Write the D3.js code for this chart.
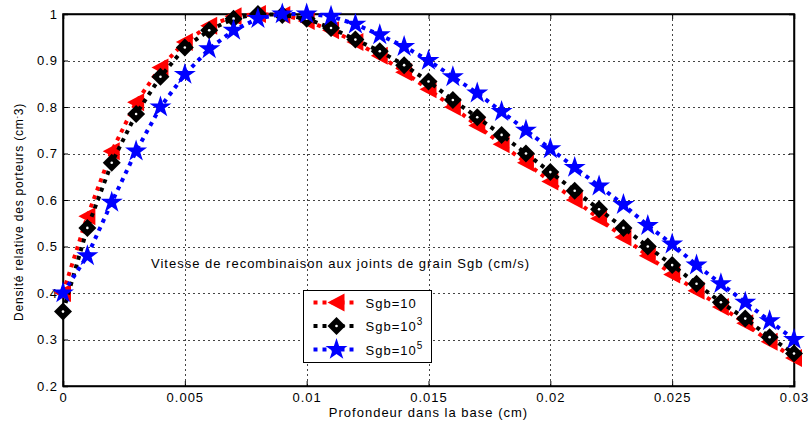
<!DOCTYPE html>
<html lang="fr">

<head>
    <meta charset="UTF-8">
    <title>Densité relative des porteurs</title>
    <script src="https://cdn.jsdelivr.net/npm/d3@7"></script>
    <style>
        body {
            margin: 0;
            background: #fff;
        }

        #chart {
            width: 809px;
            height: 426px;
        }

        text {
            font-family: "Liberation Sans", Arial, Helvetica, sans-serif;
            fill: #000;
            letter-spacing: 1px;
        }

        .grid {
            stroke: #444;
            stroke-width: 1px;
            stroke-dasharray: 2, 3;
        }

        .curve {
            fill: none;
            stroke-width: 4px;
            stroke-dasharray: 4, 5;
        }
    </style>
</head>

<body>
    <div id="chart"></div>
</body>

<script>
    // profondeur (cm)
    let depth = [0, 0.001, 0.002, 0.003, 0.004, 0.005, 0.006, 0.007, 0.008, 0.009, 0.010,
        0.011, 0.012, 0.013, 0.014, 0.015, 0.016, 0.017, 0.018, 0.019, 0.020,
        0.021, 0.022, 0.023, 0.024, 0.025, 0.026, 0.027, 0.028, 0.029, 0.030];

    // Sgb = 10
    let sgb10 = [0.40, 0.565, 0.705, 0.81, 0.885, 0.94, 0.975, 0.995, 1.0, 0.998, 0.985,
        0.965, 0.94, 0.91, 0.875, 0.838, 0.80, 0.76, 0.72, 0.68, 0.64,
        0.60, 0.56, 0.52, 0.48, 0.44, 0.405, 0.37, 0.335, 0.295, 0.26];

    // Sgb = 10^3
    let sgb1e3 = [0.36, 0.54, 0.68, 0.785, 0.865, 0.928, 0.965, 0.99, 1.0, 0.998, 0.99,
        0.97, 0.945, 0.92, 0.89, 0.855, 0.815, 0.778, 0.74, 0.70, 0.66,
        0.62, 0.58, 0.54, 0.50, 0.46, 0.42, 0.38, 0.345, 0.305, 0.27];

    // Sgb = 10^5
    let sgb1e5 = [0.40, 0.48, 0.595, 0.705, 0.80, 0.87, 0.925, 0.965, 0.99, 1.0, 1.0,
        0.995, 0.978, 0.955, 0.93, 0.90, 0.865, 0.83, 0.79, 0.75, 0.71,
        0.67, 0.63, 0.59, 0.545, 0.505, 0.46, 0.42, 0.38, 0.34, 0.30];

    let xTicks = [0, 0.005, 0.01, 0.015, 0.02, 0.025, 0.03];
    let xTickLabels = ["0", "0.005", "0.01", "0.015", "0.02", "0.025", "0.03"];
    let yTicks = [0.2, 0.3, 0.4, 0.5, 0.6, 0.7, 0.8, 0.9, 1];
    let yTickLabels = ["0.2", "0.3", "0.4", "0.5", "0.6", "0.7", "0.8", "0.9", "1"];

    let seriesNames = ["Sgb=10", "Sgb=10", "Sgb=10"];
    let seriesExp = ["", "3", "5"];

    let draw = () => {
        let svg = d3.select("#chart").append("svg")
            .attr("class", "chart")
            .attr("width", 809)
            .attr("height", 426);

        let padding = { top: 14, left: 63, bottom: 40, right: 15 };
        let width = 809 - padding.left - padding.right;
        let height = 426 - padding.top - padding.bottom;

        let focus = svg.append("g")
            .attr("transform", "translate(" + padding.left + "," + padding.top + ")");

        let x = d3.scaleLinear().domain([0, 0.03]).range([0, width]);
        let y = d3.scaleLinear().domain([0.2, 1]).range([height, 0]);

        /*grid*/
        focus.selectAll(".vgrid")
            .data(xTicks.slice(1, -1))
            .enter().append("line")
            .attr("class", "grid")
            .attr("x1", d => Math.round(x(d)) + 0.5).attr("x2", d => Math.round(x(d)) + 0.5)
            .attr("y1", 0).attr("y2", height);
        focus.selectAll(".hgrid")
            .data(yTicks.slice(1, -1))
            .enter().append("line")
            .attr("class", "grid")
            .attr("y1", d => Math.round(y(d)) + 0.5).attr("y2", d => Math.round(y(d)) + 0.5)
            .attr("x1", 0).attr("x2", width);

        /*axes: ticks inward, labels outside*/
        let xAxis = d3.axisBottom(x).tickValues(xTicks).tickSize(-5)
            .tickFormat((d, i) => xTickLabels[i]).tickPadding(7);
        let yAxis = d3.axisLeft(y).tickValues(yTicks).tickSize(-5)
            .tickFormat((d, i) => yTickLabels[i]).tickPadding(5);

        focus.append("g").attr("transform", "translate(0," + height + ")").call(xAxis);
        focus.append("g").call(yAxis);
        focus.append("g").call(d3.axisTop(x).tickValues(xTicks).tickSize(-5).tickFormat(""));
        focus.append("g").attr("transform", "translate(" + width + ",0)")
            .call(d3.axisRight(y).tickValues(yTicks).tickSize(-5).tickFormat(""));

        focus.selectAll(".tick text")
            .style("font-size", "13px")
            .style("font-family", "'Liberation Sans', Arial, sans-serif");
        focus.selectAll(".domain").attr("stroke", "#000").attr("stroke-width", 1.5);
        focus.selectAll(".tick line").attr("stroke", "#000");

        /*box*/
        focus.append("rect")
            .attr("width", width).attr("height", height)
            .attr("fill", "none").attr("stroke", "#000").attr("stroke-width", 1.5);

        /*markers*/
        let triLeft = "M-9,0L8,-9L8,9Z";
        let diamond = "M0,-9L9,0L0,9L-9,0Z";
        let star = d3.symbol().type(d3.symbolStar).size(150)();

        let series = [
            { values: sgb10, color: "#ff0000", shape: triLeft, hole: false },
            { values: sgb1e3, color: "#000000", shape: diamond, hole: true },
            { values: sgb1e5, color: "#0000ff", shape: star, hole: false }
        ];

        let line = d3.line()
            .x((d, i) => x(depth[i]))
            .y(d => y(d));

        series.forEach((s, k) => {
            focus.append("path")
                .datum(s.values)
                .attr("class", "curve")
                .attr("stroke", s.color)
                .attr("d", line);

            let m = focus.selectAll(".mk" + k)
                .data(s.values)
                .enter().append("g")
                .attr("transform", (d, i) => "translate(" + x(depth[i]) + "," + y(d) + ")");
            m.append("path").attr("d", s.shape).attr("fill", s.color);
            if (s.hole) {
                m.append("circle").attr("r", 1.3).attr("fill", "#fff");
            }
        });

        /*annotation*/
        svg.append("text")
            .attr("x", 151).attr("y", 268)
            .style("font-size", "13px")
            .text("Vitesse de recombinaison aux joints de grain Sgb (cm/s)");

        /*legend*/
        let legend = svg.append("g").attr("transform", "translate(303.5,290.5)");
        legend.append("rect")
            .attr("width", 128).attr("height", 72)
            .attr("fill", "#fff").attr("stroke", "#000").attr("stroke-width", 1);

        series.forEach((s, k) => {
            let ly = 12 + k * 23.5;
            legend.append("line")
                .attr("class", "curve")
                .attr("stroke", s.color)
                .attr("x1", 10).attr("x2", 54)
                .attr("y1", ly).attr("y2", ly);
            let mk = legend.append("g").attr("transform", "translate(33," + ly + ")");
            mk.append("path").attr("d", s.shape).attr("fill", s.color);
            if (s.hole) {
                mk.append("circle").attr("r", 1.3).attr("fill", "#fff");
            }
            let t = legend.append("text")
                .attr("x", 62).attr("y", ly + 5)
                .style("font-size", "13px")
                .text(seriesNames[k]);
            if (seriesExp[k]) {
                t.append("tspan")
                    .attr("dy", -6)
                    .style("font-size", "10px")
                    .text(seriesExp[k]);
            }
        });

        /*axis titles*/
        svg.append("text")
            .attr("x", padding.left + width / 2).attr("y", 417)
            .attr("text-anchor", "middle")
            .style("font-size", "13px")
            .text("Profondeur dans la base (cm)");

        // y label: measured then centred by hand (tspans inside)
        let yl = svg.append("text")
            .style("font-size", "12px")
            .style("letter-spacing", "0.8px")
            .text("Densité relative des porteurs (cm");
        yl.append("tspan").attr("dy", -4).style("font-size", "7px").text("-");
        yl.append("tspan").attr("dy", 4).text("3)");
        let len = yl.node().getBBox().width;
        yl.attr("transform", "translate(23," + (212 + len / 2) + ") rotate(-90)");
    }

    draw();
</script>

</html>
